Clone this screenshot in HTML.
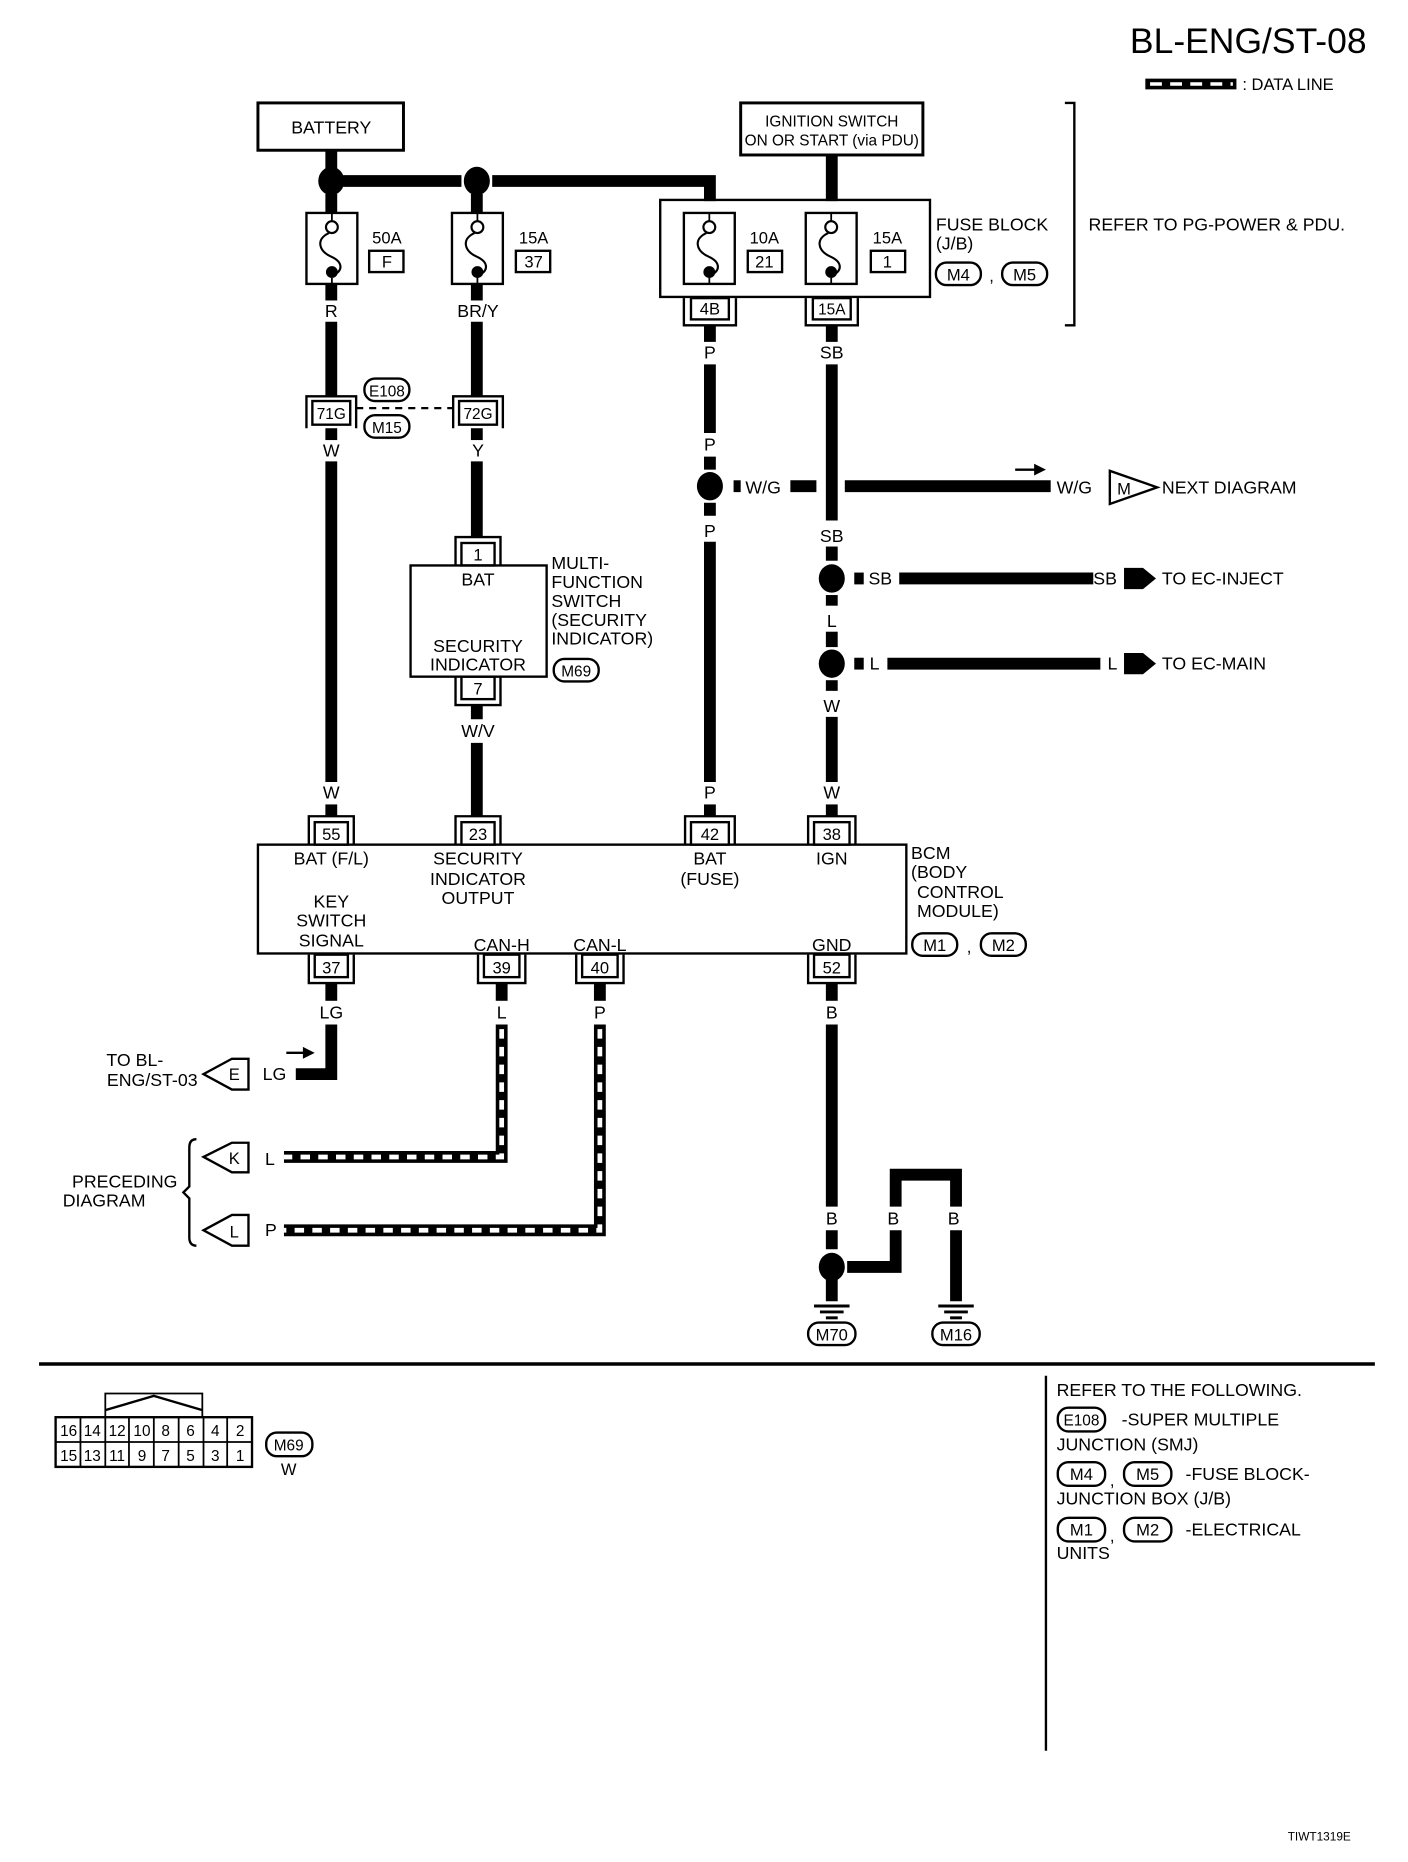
<!DOCTYPE html>
<html><head><meta charset="utf-8"><style>
html,body{margin:0;padding:0;background:#fff}
svg{display:block}
text{font-family:"Liberation Sans",sans-serif;fill:#000}
</style></head><body>
<svg width="1408" height="1862" viewBox="0 0 1190 1574" preserveAspectRatio="none" xmlns="http://www.w3.org/2000/svg">
<defs>
<g id="fuse"><rect x="0" y="0" width="43" height="60" fill="#fff" stroke="#000" stroke-width="2"/>
<line x1="21.5" y1="0" x2="21.5" y2="7" stroke="#000" stroke-width="1.5"/>
<circle cx="21.5" cy="12" r="5" fill="none" stroke="#000" stroke-width="1.8"/>
<path d="M19,17 C8,22 10,32 21,37 C32,42 30,50 23,52" fill="none" stroke="#000" stroke-width="1.8"/>
<circle cx="21.5" cy="50" r="5" fill="#000"/>
<line x1="21.5" y1="55" x2="21.5" y2="60" stroke="#000" stroke-width="1.5"/></g>
</defs>
<g font-size="14" text-anchor="middle">
<text x="1055" y="45" font-size="30" text-anchor="middle">BL-ENG/ST-08</text>
<line x1="968" y1="71" x2="1045" y2="71" stroke="#000" stroke-width="9"/>
<line x1="972" y1="71" x2="1042" y2="71" stroke="#fff" stroke-width="3" stroke-dasharray="10,7"/>
<text x="1050" y="76" text-anchor="start">: DATA LINE</text>

<rect x="218" y="87" width="123" height="40" fill="none" stroke="#000" stroke-width="2.5"/>
<text x="280" y="113" font-size="15">BATTERY</text>
<rect x="626" y="87" width="154" height="44" fill="none" stroke="#000" stroke-width="2.5"/>
<text x="703" y="107" font-size="13">IGNITION SWITCH</text>
<text x="703" y="123" font-size="13">ON OR START (via PDU)</text>
<path d="M900,87 H908 V275 H900" fill="none" stroke="#000" stroke-width="2"/>
<text x="920" y="195" text-anchor="start" font-size="15">REFER TO PG-POWER &amp; PDU.</text>

<g stroke="#000" stroke-width="10" fill="none">
<line x1="280" y1="127" x2="280" y2="143"/>
<line x1="290" y1="153" x2="390" y2="153"/>
<path d="M416,153 H600 V170"/>
<line x1="703" y1="131" x2="703" y2="170"/>
<line x1="280" y1="164" x2="280" y2="180"/>
<line x1="403" y1="164" x2="403" y2="180"/>
</g>
<ellipse cx="280" cy="153" rx="11" ry="12"/>
<ellipse cx="403" cy="153" rx="11" ry="12"/>

<rect x="558" y="169" width="228" height="82" fill="none" stroke="#000" stroke-width="2"/>
<use href="#fuse" x="259" y="180"/><use href="#fuse" x="382" y="180"/>
<use href="#fuse" x="578" y="180"/><use href="#fuse" x="681" y="180"/>
<g font-size="14">
<text x="327" y="206">50A</text><rect x="312" y="212" width="29" height="18" fill="none" stroke="#000" stroke-width="2"/><text x="327" y="226">F</text>
<text x="451" y="206">15A</text><rect x="436" y="212" width="29" height="18" fill="none" stroke="#000" stroke-width="2"/><text x="451" y="226">37</text>
<text x="646" y="206">10A</text><rect x="632" y="212" width="29" height="18" fill="none" stroke="#000" stroke-width="2"/><text x="646" y="226">21</text>
<text x="750" y="206">15A</text><rect x="736" y="212" width="29" height="18" fill="none" stroke="#000" stroke-width="2"/><text x="750" y="226">1</text>
</g>
<text x="791" y="195" text-anchor="start" font-size="15">FUSE BLOCK</text>
<text x="791" y="211" text-anchor="start" font-size="15">(J/B)</text>
<rect x="791" y="222" width="38" height="19" rx="9" fill="none" stroke="#000" stroke-width="2"/><text x="810" y="237">M4</text>
<text x="838" y="238">,</text>
<rect x="847" y="222" width="38" height="19" rx="9" fill="none" stroke="#000" stroke-width="2"/><text x="866" y="237">M5</text>

<g fill="none" stroke="#000" stroke-width="2">
<rect x="584" y="252" width="32" height="18"/><path d="M578,252 V275 H622 V252"/>
<rect x="687" y="252" width="32" height="18"/><path d="M681,252 V275 H725 V252"/>
<rect x="264" y="339" width="32" height="20"/><path d="M259,362 V335 H301 V362"/>
<rect x="388" y="339" width="32" height="20"/><path d="M383,362 V335 H425 V362"/>
<rect x="390" y="459" width="28" height="19"/><path d="M385,478 V454 H423 V478"/>
<rect x="347" y="478" width="115" height="94" stroke-width="2"/>
<rect x="390" y="572" width="28" height="19"/><path d="M385,572 V596 H423 V572"/>
<rect x="266" y="695" width="28" height="19"/><path d="M261,714 V690 H299 V714"/>
<rect x="390" y="695" width="28" height="19"/><path d="M385,714 V690 H423 V714"/>
<rect x="584" y="695" width="32" height="19"/><path d="M579,714 V690 H621 V714"/>
<rect x="688" y="695" width="30" height="19"/><path d="M683,714 V690 H723 V714"/>
<rect x="218" y="714" width="548" height="92"/>
<rect x="266" y="807" width="28" height="19"/><path d="M261,807 V831 H299 V807"/>
<rect x="409" y="807" width="30" height="19"/><path d="M404,807 V831 H444 V807"/>
<rect x="492" y="807" width="30" height="19"/><path d="M487,807 V831 H527 V807"/>
<rect x="688" y="807" width="30" height="19"/><path d="M683,807 V831 H723 V807"/>
</g>
<g font-size="14">
<text x="600" y="266">4B</text><text x="703" y="266" font-size="13">15A</text>
<text x="280" y="354" font-size="13">71G</text><text x="404" y="354" font-size="13">72G</text>
<text x="404" y="474">1</text><text x="404" y="587">7</text>
<text x="280" y="710">55</text><text x="404" y="710">23</text><text x="600" y="710">42</text><text x="703" y="710">38</text>
<text x="280" y="823">37</text><text x="424" y="823">39</text><text x="507" y="823">40</text><text x="703" y="823">52</text>
</g>
<rect x="308" y="320" width="38" height="19" rx="9" fill="none" stroke="#000" stroke-width="2"/><text x="327" y="335" font-size="13">E108</text>
<rect x="308" y="351" width="38" height="19" rx="9" fill="none" stroke="#000" stroke-width="2"/><text x="327" y="366" font-size="13">M15</text>
<line x1="301" y1="345" x2="383" y2="345" stroke="#000" stroke-width="2" stroke-dasharray="6,5"/>

<g font-size="15">
<text x="280" y="268">R</text><text x="404" y="268">BR/Y</text>
<text x="600" y="303">P</text><text x="703" y="303">SB</text>
<text x="280" y="386">W</text><text x="404" y="386">Y</text>
<text x="600" y="381">P</text><text x="600" y="454">P</text>
<text x="703" y="458">SB</text><text x="703" y="530">L</text><text x="703" y="602">W</text>
<text x="404" y="623">W/V</text>
<text x="280" y="675">W</text><text x="600" y="675">P</text><text x="703" y="675">W</text>
<text x="280" y="861">LG</text><text x="424" y="861">L</text><text x="507" y="861">P</text><text x="703" y="861">B</text>
<text x="703" y="1035">B</text><text x="755" y="1035">B</text><text x="806" y="1035">B</text>
</g>
<g stroke="#000" stroke-width="10" fill="none">
<line x1="280" y1="240" x2="280" y2="254"/><line x1="403" y1="240" x2="403" y2="254"/>
<line x1="280" y1="272" x2="280" y2="335"/><line x1="403" y1="272" x2="403" y2="335"/>
<line x1="600" y1="275" x2="600" y2="289"/><line x1="703" y1="275" x2="703" y2="289"/>
<line x1="600" y1="308" x2="600" y2="366"/><line x1="600" y1="386" x2="600" y2="397"/><line x1="600" y1="425" x2="600" y2="436"/>
<line x1="600" y1="458" x2="600" y2="661"/><line x1="600" y1="680" x2="600" y2="690"/>
<line x1="703" y1="308" x2="703" y2="440"/><line x1="703" y1="462" x2="703" y2="474"/>
<line x1="703" y1="503" x2="703" y2="512"/><line x1="703" y1="534" x2="703" y2="547"/>
<line x1="703" y1="575" x2="703" y2="584"/><line x1="703" y1="606" x2="703" y2="661"/><line x1="703" y1="680" x2="703" y2="690"/>
<line x1="280" y1="362" x2="280" y2="372"/><line x1="280" y1="390" x2="280" y2="661"/><line x1="280" y1="680" x2="280" y2="690"/>
<line x1="403" y1="362" x2="403" y2="372"/><line x1="403" y1="390" x2="403" y2="454"/>
<line x1="403" y1="596" x2="403" y2="608"/><line x1="403" y1="628" x2="403" y2="690"/>
<line x1="668" y1="411" x2="690" y2="411"/><line x1="714" y1="411" x2="888" y2="411"/>
<line x1="620" y1="411" x2="626" y2="411"/>
<line x1="760" y1="489" x2="924" y2="489"/><line x1="722" y1="489" x2="730" y2="489"/>
<line x1="750" y1="561" x2="930" y2="561"/><line x1="722" y1="561" x2="730" y2="561"/>
<line x1="280" y1="831" x2="280" y2="846"/><path d="M280,866 V908 H250"/>
<line x1="703" y1="831" x2="703" y2="846"/><line x1="703" y1="866" x2="703" y2="1020"/>
<line x1="703" y1="1040" x2="703" y2="1056"/>
<path d="M716,1071 H757 V1040"/><path d="M757,1020 V993 H808 V1020"/>
<line x1="808" y1="1040" x2="808" y2="1100"/><line x1="703" y1="1080" x2="703" y2="1100"/>
<line x1="424" y1="831" x2="424" y2="846"/><line x1="507" y1="831" x2="507" y2="846"/>
</g>
<path d="M424,866 V978 H240" fill="none" stroke="#000" stroke-width="10"/>
<path d="M424,870 V978 H240" fill="none" stroke="#fff" stroke-width="4" stroke-dasharray="8,7"/>
<path d="M507,866 V1040 H240" fill="none" stroke="#000" stroke-width="10"/>
<path d="M507,870 V1040 H240" fill="none" stroke="#fff" stroke-width="4" stroke-dasharray="8,7"/>

<ellipse cx="600" cy="411" rx="11" ry="12"/>
<ellipse cx="703" cy="489" rx="11" ry="12"/>
<ellipse cx="703" cy="561" rx="11" ry="12"/>
<ellipse cx="703" cy="1071" rx="11" ry="12"/>
<g stroke="#000" stroke-width="2.5">
<line x1="688" y1="1104" x2="718" y2="1104"/><line x1="693" y1="1109" x2="713" y2="1109"/><line x1="698" y1="1114" x2="708" y2="1114"/>
<line x1="793" y1="1104" x2="823" y2="1104"/><line x1="798" y1="1109" x2="818" y2="1109"/><line x1="803" y1="1114" x2="813" y2="1114"/>
</g>
<rect x="683" y="1118" width="40" height="19" rx="9" fill="none" stroke="#000" stroke-width="2"/><text x="703" y="1133">M70</text>
<rect x="788" y="1118" width="40" height="19" rx="9" fill="none" stroke="#000" stroke-width="2"/><text x="808" y="1133">M16</text>

<g font-size="15" text-anchor="start">
<text x="630" y="417">W/G</text>
<text x="893" y="417">W/G</text>
<text x="982" y="417">NEXT DIAGRAM</text>
<text x="734" y="494">SB</text><text x="924" y="494">SB</text><text x="982" y="494">TO EC-INJECT</text>
<text x="735" y="566">L</text><text x="936" y="566">L</text><text x="982" y="566">TO EC-MAIN</text>
<text x="466" y="481">MULTI-</text><text x="466" y="497">FUNCTION</text><text x="466" y="513">SWITCH</text>
<text x="466" y="529">(SECURITY</text><text x="466" y="545"> INDICATOR)</text>
<text x="770" y="726">BCM</text><text x="770" y="742">(BODY</text><text x="775" y="759">CONTROL</text><text x="775" y="775">MODULE)</text>
<text x="222" y="913">LG</text><text x="224" y="985">L</text><text x="224" y="1045">P</text>
</g>
<rect x="468" y="557" width="38" height="19" rx="9" fill="none" stroke="#000" stroke-width="2"/><text x="487" y="572" font-size="13">M69</text>
<rect x="771" y="789" width="38" height="19" rx="9" fill="none" stroke="#000" stroke-width="2"/><text x="790" y="804">M1</text>
<text x="819" y="805">,</text>
<rect x="829" y="789" width="38" height="19" rx="9" fill="none" stroke="#000" stroke-width="2"/><text x="848" y="804">M2</text>
<g font-size="15">
<text x="280" y="731">BAT (F/L)</text>
<text x="280" y="767">KEY</text><text x="280" y="783">SWITCH</text><text x="280" y="800">SIGNAL</text>
<text x="404" y="731">SECURITY</text><text x="404" y="748">INDICATOR</text><text x="404" y="764">OUTPUT</text>
<text x="600" y="731">BAT</text><text x="600" y="748">(FUSE)</text><text x="703" y="731">IGN</text>
<text x="424" y="804">CAN-H</text><text x="507" y="804">CAN-L</text><text x="703" y="804">GND</text>
<text x="404" y="495">BAT</text><text x="404" y="551">SECURITY</text><text x="404" y="567">INDICATOR</text>
</g>
<path d="M858,397 H878" stroke="#000" stroke-width="2"/><path d="M874,392 L884,397 L874,402 Z"/>
<path d="M938,398 L938,426 L978,412 Z" fill="#fff" stroke="#000" stroke-width="2"/><text x="950" y="418">M</text>
<path d="M950,480 H966 L977,489 L966,498 H950 Z"/>
<path d="M950,552 H966 L977,561 L966,570 H950 Z"/>
<path d="M242,890 H260" stroke="#000" stroke-width="2"/><path d="M256,885 L266,890 L256,895 Z"/>
<path d="M210,895 V921 H196 L172,908 L196,895 Z" fill="#fff" stroke="#000" stroke-width="2"/><text x="198" y="913">E</text>
<path d="M210,966 V991 H196 L172,978 L196,966 Z" fill="#fff" stroke="#000" stroke-width="2"/><text x="198" y="984">K</text>
<path d="M210,1027 V1053 H196 L172,1040 L196,1027 Z" fill="#fff" stroke="#000" stroke-width="2"/><text x="198" y="1046">L</text>
<g font-size="15" text-anchor="end">
<text x="138" y="901">TO BL-</text><text x="167" y="918">ENG/ST-03</text>
<text x="150" y="1004">PRECEDING</text><text x="123" y="1020">DIAGRAM</text>
</g>
<path d="M166,963 Q160,963 160,970 V1003 L155,1008 L160,1013 V1046 Q160,1053 166,1053" fill="none" stroke="#000" stroke-width="2"/>

<line x1="33" y1="1153" x2="1162" y2="1153" stroke="#000" stroke-width="3"/>
<line x1="884" y1="1163" x2="884" y2="1480" stroke="#000" stroke-width="2"/>
<g font-size="15" text-anchor="start">
<text x="893" y="1180">REFER TO THE FOLLOWING.</text>
<text x="948" y="1205">-SUPER MULTIPLE</text>
<text x="893" y="1226">JUNCTION (SMJ)</text>
<text x="1002" y="1251">-FUSE BLOCK-</text>
<text x="893" y="1272">JUNCTION BOX (J/B)</text>
<text x="1002" y="1298">-ELECTRICAL</text>
<text x="893" y="1318">UNITS</text>
</g>
<rect x="894" y="1190" width="40" height="20" rx="9" fill="none" stroke="#000" stroke-width="2"/><text x="914" y="1205" font-size="13">E108</text>
<rect x="894" y="1236" width="40" height="20" rx="9" fill="none" stroke="#000" stroke-width="2"/><text x="914" y="1251">M4</text>
<text x="940" y="1256">,</text>
<rect x="950" y="1236" width="40" height="20" rx="9" fill="none" stroke="#000" stroke-width="2"/><text x="970" y="1251">M5</text>
<rect x="894" y="1283" width="40" height="20" rx="9" fill="none" stroke="#000" stroke-width="2"/><text x="914" y="1298">M1</text>
<text x="940" y="1303">,</text>
<rect x="950" y="1283" width="40" height="20" rx="9" fill="none" stroke="#000" stroke-width="2"/><text x="970" y="1298">M2</text>

<path d="M89,1198 V1178 H171 V1198" fill="none" stroke="#000" stroke-width="1.5"/>
<path d="M89,1192 L130,1180 L171,1192" fill="none" stroke="#000" stroke-width="2"/>
<rect x="47" y="1198" width="166" height="42" fill="none" stroke="#000" stroke-width="2"/>
<line x1="47" y1="1219" x2="213" y2="1219" stroke="#000" stroke-width="1.5"/>
<g stroke="#000" stroke-width="1.5">
<line x1="68" y1="1198" x2="68" y2="1240"/><line x1="89" y1="1198" x2="89" y2="1240"/><line x1="109" y1="1198" x2="109" y2="1240"/>
<line x1="130" y1="1198" x2="130" y2="1240"/><line x1="151" y1="1198" x2="151" y2="1240"/><line x1="172" y1="1198" x2="172" y2="1240"/><line x1="192" y1="1198" x2="192" y2="1240"/>
</g>
<g font-size="13">
<text x="58" y="1214">16</text><text x="78" y="1214">14</text><text x="99" y="1214">12</text><text x="120" y="1214">10</text>
<text x="140" y="1214">8</text><text x="161" y="1214">6</text><text x="182" y="1214">4</text><text x="203" y="1214">2</text>
<text x="58" y="1235">15</text><text x="78" y="1235">13</text><text x="99" y="1235">11</text><text x="120" y="1235">9</text>
<text x="140" y="1235">7</text><text x="161" y="1235">5</text><text x="182" y="1235">3</text><text x="203" y="1235">1</text>
</g>
<rect x="225" y="1211" width="39" height="20" rx="9" fill="none" stroke="#000" stroke-width="2"/><text x="244" y="1226" font-size="13">M69</text>
<text x="244" y="1247">W</text>
<text x="1115" y="1556" font-size="10">TIWT1319E</text>
</g>
</svg>
</body></html>
